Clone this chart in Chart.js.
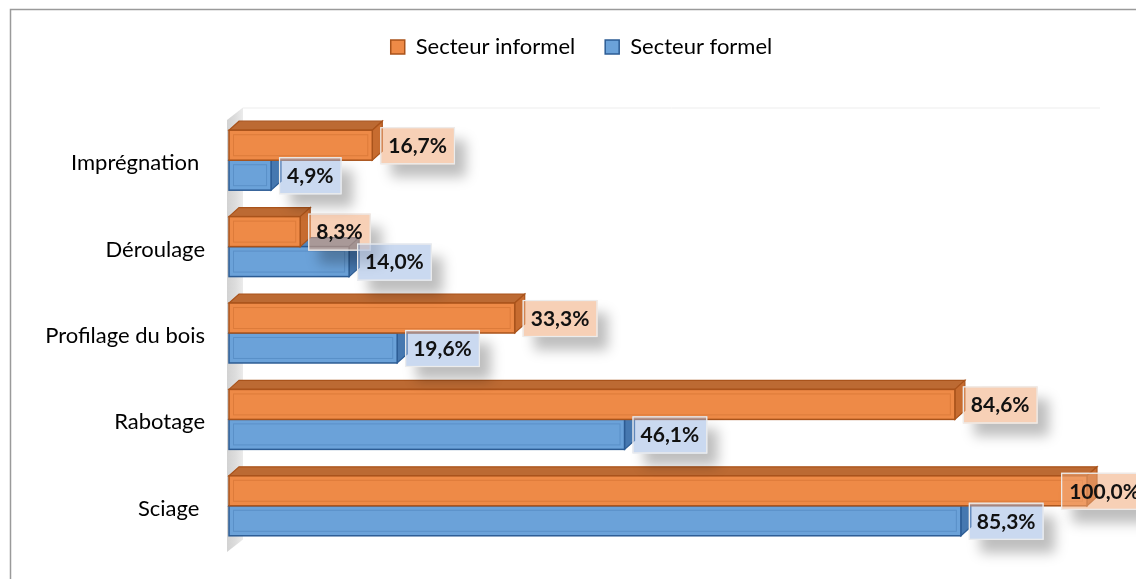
<!DOCTYPE html>
<html>
<head>
<meta charset="utf-8">
<script src="https://cdn.jsdelivr.net/npm/chart.js@4.4.1/dist/chart.umd.min.js"></script>
<style>
  html, body { margin: 0; padding: 0; background: #ffffff; }
  #wrap { width: 1136px; height: 579px; position: relative; overflow: hidden; }
  canvas { display: block; }
</style>
</head>
<body>
<div id="wrap"><canvas id="chart" width="1136" height="579"></canvas></div>
<script>
// Activités de transformation du bois, part des entreprises (%)
const categories = ['Imprégnation ', 'Déroulage', 'Profilage du bois', 'Rabotage', 'Sciage '];
const informel = [16.7, 8.3, 33.3, 84.6, 100.0];
const formel = [4.9, 14.0, 19.6, 46.1, 85.3];
const seriesNames = ['Secteur informel', 'Secteur formel'];

const FONT = 'Lato, "Open Sans", sans-serif';

// Face colours of the extruded bars: front, edge, top, right side
const palette = [
  { front: '#EE8A47', edge: '#A9531B', top: '#BC6A33', side: '#C76C30', inner: 'rgba(170,80,20,0.25)',
    box: 'rgba(241,170,122,0.55)' },
  { front: '#6BA2D9', edge: '#2C5C94', top: '#5285BC', side: '#4678B0', inner: 'rgba(40,90,150,0.25)',
    box: 'rgba(150,180,225,0.5)' }
];

// Depth of the 3-D extrusion (pixels)
const DX = 10, DY = -9;
// Depth of the side wall
const WX = 16, WY = -12.5;
// Horizontal nudge of the legend row
const LEGEND_SHIFT = 28;

function fmt(v) {
  return v.toFixed(1).replace('.', ',') + '%';
}

function poly(ctx, pts, fill, stroke) {
  ctx.beginPath();
  ctx.moveTo(pts[0][0], pts[0][1]);
  for (let i = 1; i < pts.length; i++) ctx.lineTo(pts[i][0], pts[i][1]);
  ctx.closePath();
  ctx.fillStyle = fill;
  ctx.fill();
  if (stroke) {
    ctx.strokeStyle = stroke;
    ctx.lineWidth = 1.2;
    ctx.stroke();
  }
}

function drawBar3D(ctx, x0, x1, yT, yB, c) {
  // top face
  poly(ctx, [[x0, yT], [x0 + DX, yT + DY], [x1 + DX, yT + DY], [x1, yT]], c.top, c.edge);
  // right face
  poly(ctx, [[x1, yT], [x1 + DX, yT + DY], [x1 + DX, yB + DY], [x1, yB]], c.side, c.edge);
  // front face
  ctx.fillStyle = c.front;
  ctx.fillRect(x0, yT, x1 - x0, yB - yT);
  if (x1 - x0 > 10) {
    ctx.strokeStyle = c.inner;
    ctx.lineWidth = 1;
    ctx.strokeRect(x0 + 4.5, yT + 4.5, x1 - x0 - 9, yB - yT - 9);
  }
  ctx.strokeStyle = c.edge;
  ctx.lineWidth = 1.5;
  ctx.strokeRect(x0, yT, x1 - x0, yB - yT);
}

const bars3d = {
  id: 'bars3d',
  afterLayout(chart) {
    chart.legend.left += LEGEND_SHIFT;
    chart.legend.right += LEGEND_SHIFT;
  },
  beforeDraw(chart) {
    const ctx = chart.ctx;
    ctx.save();
    ctx.fillStyle = '#ffffff';
    ctx.fillRect(0, 0, chart.width, chart.height);
    // chart frame
    ctx.strokeStyle = '#9a9a9a';
    ctx.lineWidth = 1.5;
    ctx.strokeRect(10.5, 9.5, 2000, 2000);
    ctx.restore();
  },
  beforeDatasetsDraw(chart) {
    const ctx = chart.ctx;
    const a = chart.chartArea;
    const wx = a.left - 2, wt = a.top + 3, wb = a.bottom + 3;
    ctx.save();
    // back wall top edge
    ctx.strokeStyle = '#ededed';
    ctx.lineWidth = 1;
    ctx.beginPath();
    ctx.moveTo(wx + WX, wt + WY + 0.5);
    ctx.lineTo(a.right + 13, wt + WY + 0.5);
    ctx.stroke();
    // side wall
    const g = ctx.createLinearGradient(wx, 0, wx + WX, 0);
    g.addColorStop(0, '#d2d2d2');
    g.addColorStop(0.5, '#dcdcdc');
    g.addColorStop(1, '#ebebeb');
    poly(ctx, [[wx, wt], [wx + WX, wt + WY], [wx + WX, wb + WY], [wx, wb]], g, null);
    ctx.restore();
    return false; // bars are drawn in afterDraw as extruded shapes
  },
  afterDraw(chart) {
    const ctx = chart.ctx;
    const metas = [chart.getDatasetMeta(0), chart.getDatasetMeta(1)];
    ctx.save();
    // bars: lower bar (formel) first so the upper one overlaps it
    for (let i = 0; i < categories.length; i++) {
      for (const d of [1, 0]) {
        const el = metas[d].data[i];
        const p = el.getProps(['x', 'y', 'base', 'height'], true);
        drawBar3D(ctx, p.base, p.x, p.y - p.height / 2, p.y + p.height / 2, palette[d]);
      }
    }
    // value labels
    ctx.font = 'bold 21px ' + FONT;
    ctx.textBaseline = 'middle';
    ctx.textAlign = 'left';
    const limit = chart.width + 12;
    for (const d of [0, 1]) {
      const vals = chart.data.datasets[d].data;
      for (let i = 0; i < vals.length; i++) {
        const el = metas[d].data[i];
        const p = el.getProps(['x', 'y'], true);
        const txt = fmt(vals[i]);
        const tw = ctx.measureText(txt).width;
        const w = tw + 16, h = 37;
        let bx = p.x + 8;
        if (bx + w > limit) bx = limit - w;
        const by = p.y - h / 2 + 0.5;
        // drop shadow outside the box only
        ctx.save();
        ctx.beginPath();
        ctx.rect(0, 0, chart.width + 50, chart.height);
        ctx.rect(bx, by, w, h);
        ctx.clip('evenodd');
        ctx.shadowColor = 'rgba(0,0,0,0.26)';
        ctx.shadowBlur = 12;
        ctx.shadowOffsetX = 11;
        ctx.shadowOffsetY = 13;
        ctx.fillStyle = '#ffffff';
        ctx.fillRect(bx, by, w, h);
        ctx.restore();
        // box
        ctx.fillStyle = palette[d].box;
        ctx.fillRect(bx, by, w, h);
        ctx.strokeStyle = 'rgba(236,236,236,1)';
        ctx.lineWidth = 1.2;
        ctx.strokeRect(bx + 0.5, by + 0.5, w - 1, h - 1);
        ctx.fillStyle = '#111111';
        ctx.fillText(txt, bx + 8, p.y + 1);
      }
    }
    ctx.restore();
  }
};

new Chart(document.getElementById('chart'), {
  type: 'bar',
  data: {
    labels: categories,
    datasets: [
      { label: seriesNames[0], data: informel, backgroundColor: palette[0].front,
        borderColor: palette[0].edge, borderWidth: 1.5 },
      { label: seriesNames[1], data: formel, backgroundColor: palette[1].front,
        borderColor: palette[1].edge, borderWidth: 1.5 }
    ]
  },
  options: {
    indexAxis: 'y',
    responsive: false,
    animation: false,
    events: [],
    devicePixelRatio: 1,
    categoryPercentage: 0.694,
    barPercentage: 1.0,
    layout: { padding: { left: 20, right: 49, top: 6, bottom: 30 } },
    scales: {
      x: {
        type: 'linear', position: 'top', min: 0, max: 100,
        ticks: { display: false },
        grid: { display: false, drawTicks: false },
        border: { display: false },
        afterFit(s) { s.height = 49; }
      },
      y: {
        ticks: { color: '#000000', font: { family: FONT, size: 22 }, padding: 24, labelOffset: 3 },
        grid: { display: false, drawTicks: false },
        border: { display: false },
        afterFit(s) {
          s.width = 209;
          s.paddingTop = 0;
          s.paddingBottom = 0;
        }
      }
    },
    plugins: {
      legend: {
        position: 'top',
        labels: { color: '#000000', font: { family: FONT, size: 22 }, boxWidth: 14, boxHeight: 14, padding: 30 }
      },
      tooltip: { enabled: false }
    }
  },
  plugins: [bars3d]
});
</script>
</body>
</html>
